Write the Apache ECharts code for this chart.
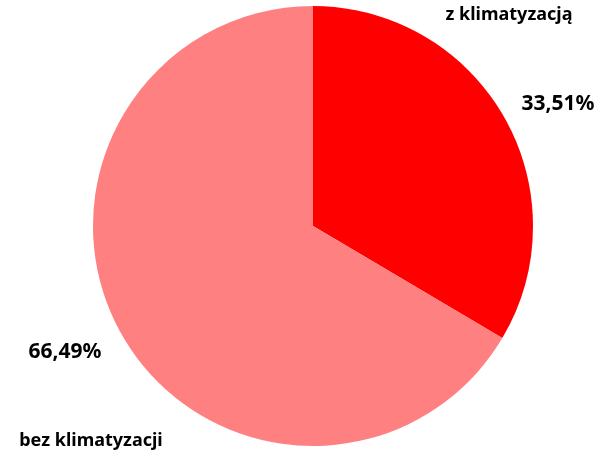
<!DOCTYPE html>
<html>
<head>
<meta charset="utf-8">
<script src="https://cdn.jsdelivr.net/npm/echarts@6/dist/echarts.min.js"></script>
<style>
  html, body { margin: 0; padding: 0; background: #fff; }
  #chart { width: 614px; height: 461px; }
</style>
</head>
<body>
<div id="chart"></div>
<script>
const categories = ['z klimatyzacją', 'bez klimatyzacji'];
const values = [33.51, 66.49];
const colors = ['#FF0000', '#FF8080'];

// label spots, [x, y] centre of text
const namePos = [[509, 15], [91, 441]];
const pctPos = [[558, 104], [65, 352]];

const myChart = echarts.init(document.getElementById('chart'));

const data = categories.map((name, i) => ({
    name: name,
    value: values[i],
    itemStyle: { color: colors[i] }
}));

const baseSeries = {
    type: 'pie',
    center: [313, 226],
    radius: [0, 220],
    startAngle: 90,
    clockwise: true,
    silent: true,
    animation: false,
    avoidLabelOverlap: false,
    labelLine: { show: false },
    data: data
};

const labelBase = {
    show: true,
    position: 'outside',
    overflow: 'none',
    fontFamily: 'Noto Sans',
    fontWeight: 'bold',
    color: '#000'
};

const option = {
    textStyle: { fontFamily: 'Noto Sans' },
    series: [
        Object.assign({}, baseSeries, {
            label: Object.assign({}, labelBase, {
                fontSize: 18,
                formatter: p => p.name
            }),
            labelLayout: p => ({
                x: namePos[p.dataIndex][0],
                y: namePos[p.dataIndex][1],
                align: 'center',
                verticalAlign: 'middle'
            })
        }),
        Object.assign({}, baseSeries, {
            // transparent copy, only carries the percent labels
            data: data.map(d => ({ name: d.name, value: d.value, itemStyle: { color: 'rgba(0,0,0,0)' } })),
            label: Object.assign({}, labelBase, {
                fontSize: 21,
                formatter: p => p.value.toFixed(2).replace('.', ',') + '%'
            }),
            labelLayout: p => ({
                x: pctPos[p.dataIndex][0],
                y: pctPos[p.dataIndex][1],
                align: 'center',
                verticalAlign: 'middle'
            })
        })
    ]
};

myChart.setOption(option);
</script>
</body>
</html>
